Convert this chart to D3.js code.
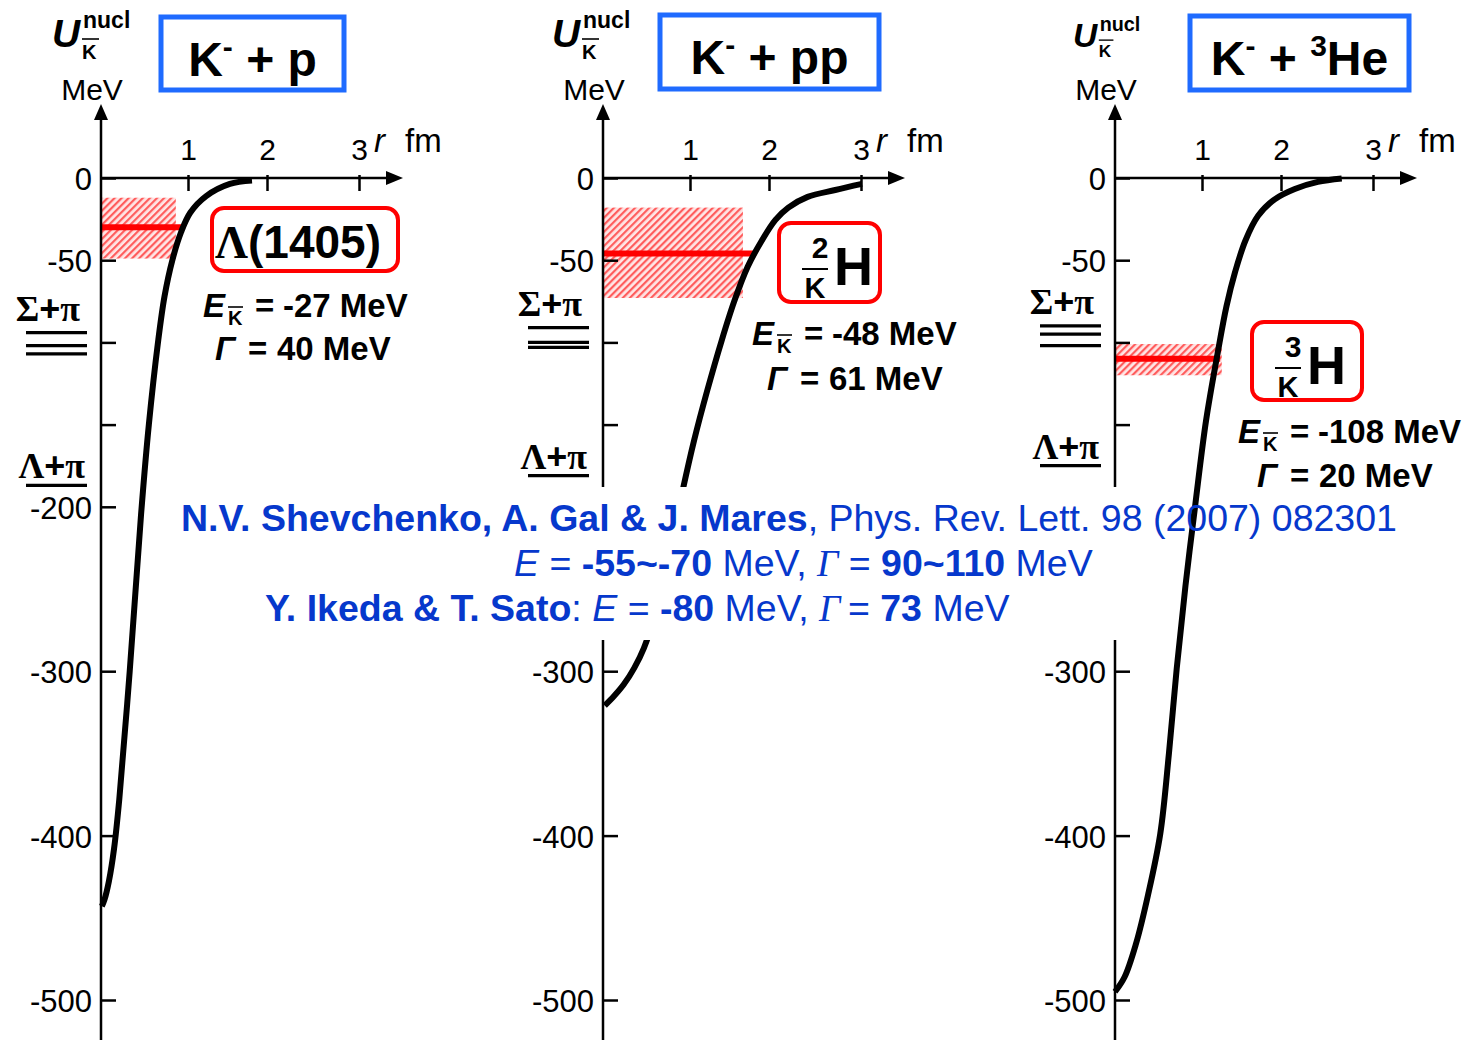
<!DOCTYPE html>
<html>
<head>
<meta charset="utf-8">
<script src="https://cdn.jsdelivr.net/npm/d3@7"></script>
<style>
  body { margin: 0; background: #fff; }
  text { font-family: "Liberation Sans", Arial, sans-serif; }
</style>
</head>
<body>
<script>
// values (r in fm, U in MeV)
const titles = ["K^- + p", "K^- + pp", "K^- + ^3He"];
const xTicks = [1, 2, 3];
const yTicks = [0, -50, -100, -150, -200, -300, -400, -500];
const yTickLabels = ["0", "-50", "", "", "-200", "-300", "-400", "-500"];

const rKp  = [0.01, 0.04, 0.09, 0.15, 0.21, 0.33, 0.46, 0.55, 0.655, 0.73, 0.82, 0.92, 1.03, 1.23, 1.53, 1.81];
const uKp  = [-443, -439, -428, -408, -378, -300, -205, -150, -100, -72, -50, -33, -21, -11, -3.6, -1.5];
const rKpp = [0.02, 0.13, 0.24, 0.36, 0.47, 0.60, 0.75, 0.92, 1.05, 1.22, 1.40, 1.56, 1.73, 1.91, 2.07, 2.21, 2.42, 2.72, 3.01];
const uKpp = [-321, -315, -308, -298, -286, -265, -232, -189, -160, -129, -99, -75, -54, -38, -25.5, -18, -11.5, -7.3, -3.6];
const r3He = [0, 0.11, 0.24, 0.38, 0.52, 0.62, 0.71, 0.81, 0.92, 1.05, 1.20, 1.31, 1.42, 1.55, 1.71, 1.92, 2.15, 2.40, 2.66];
const u3He = [-495, -486, -466, -436, -399, -350, -298, -248, -200, -148, -106, -78, -57, -38, -23, -13, -6.7, -2.4, -0.3];

const stateNames = ["Λ(1405)", "2", "3"];   // mass number over K-bar for the kaonic nuclei
const bindE = [-27, -48, -108];
const widthG = [40, 61, 20];
const lineLevel = [-30, -46, -110];        // red line as drawn
const bandTop = [-12, -18, -101];
const bandBottom = [-49, -73, -120];
const bandEnd = [0.86, 1.67, 1.25];
const lineEnd = [0.95, 1.80, 1.23];
const sigmaPi = [[-94, -102, -107], [-91, -100, -103], [-90, -95, -102]];
const lambdaPi = [-187, -181, -175];

const refLine1 = [["N.V. Shevchenko, A. Gal & J. Mares", "b"], [", Phys. Rev. Lett. 98 (2007) 082301", ""]];
const refLine2 = [["E", "i"], [" = ", ""], ["-55~-70", "b"], [" MeV, ", ""], ["Γ", "g"], [" = ", ""], ["90~110", "b"], [" MeV", ""]];
const refLine3 = [["Y. Ikeda & T. Sato", "b"], [": ", ""], ["E", "i"], [" = ", ""], ["-80", "b"], [" MeV, ", ""], ["Γ", "g"], ["\u2009= ", ""], ["73", "b"], [" MeV", ""]];

// layout
const W = 1466, H = 1040;
const ox = [101, 603, 1115];
const titleBox = [{x: 161, y: 17, w: 183, h: 73}, {x: 660, y: 15, w: 219, h: 74}, {x: 1190, y: 16, w: 219, h: 74}];
const stateBox = [{x: 212, y: 208, w: 186, h: 63}, {x: 779, y: 223, w: 101, h: 79}, {x: 1252, y: 322, w: 110, h: 78}];
const annE = [{x: 203, y: 317, gx: 215, gy: 360}, {x: 752, y: 345, gx: 767, gy: 390}, {x: 1238, y: 443, gx: 1257, gy: 487}];
const uLab = [{x: 52, s: 1}, {x: 552, s: 1}, {x: 1073, s: 0.86}];
const SERIF = "'Liberation Serif', 'Times New Roman', serif";
const BLUE = "#0638cc";

const svg = d3.select("body").append("svg").attr("width", W).attr("height", H);

const y = d3.scaleLinear().domain([0, -500]).range([178, 1000]);
const xs = ox.map(o => d3.scaleLinear().domain([0, 1, 2, 3]).range([0, 87, 166, 258].map(v => v + o)));
const curves = [[rKp, uKp], [rKpp, uKpp], [r3He, u3He]];
const line = d3.line().curve(d3.curveCatmullRom.alpha(0.5));

// hatch for the widths
const pat = svg.append("defs").append("pattern").attr("id", "hatch")
  .attr("patternUnits", "userSpaceOnUse").attr("width", 5).attr("height", 5)
  .attr("patternTransform", "rotate(45)");
pat.append("rect").attr("width", 5).attr("height", 5).attr("fill", "#ffe6e6");
pat.append("rect").attr("width", 2.2).attr("height", 5).attr("fill", "#ff5c5c");

// text built from tspans: t text, s size, b bold, i italic, f family, x abs x, dy shift
function rich(g, x, yb, parts, anchor) {
  const t = g.append("text").attr("x", x).attr("y", yb).attr("text-anchor", anchor || "start");
  parts.forEach(p => {
    const s = t.append("tspan").text(p.t);
    if (p.s) s.attr("font-size", p.s);
    if (p.b) s.attr("font-weight", "bold");
    if (p.i) s.attr("font-style", "italic");
    if (p.f) s.attr("font-family", p.f);
    if (p.x != null) s.attr("x", p.x);
    if (p.dy) s.attr("dy", p.dy);
  });
  return t;
}

function drawPanel(i) {
  const g = svg.append("g");
  const o = ox[i], x = xs[i];

  // width band + level line
  g.append("rect")
    .attr("x", o + 1).attr("y", y(bandTop[i]))
    .attr("width", x(bandEnd[i]) - o - 1).attr("height", y(bandBottom[i]) - y(bandTop[i]))
    .attr("fill", "url(#hatch)");
  g.append("line")
    .attr("x1", o).attr("x2", x(lineEnd[i]))
    .attr("y1", y(lineLevel[i])).attr("y2", y(lineLevel[i]))
    .attr("stroke", "#ff0000").attr("stroke-width", 6);

  // thresholds
  g.selectAll(".sp").data(sigmaPi[i]).enter().append("line")
    .attr("x1", o - 75).attr("x2", o - 14)
    .attr("y1", d => y(d)).attr("y2", d => y(d))
    .attr("stroke", "#000").attr("stroke-width", 3.2);
  rich(g, o - 21, y(sigmaPi[i][0]) - 12, [
    {t: "Σ", f: SERIF}, {t: "+"}, {t: "π", f: SERIF}], "end").attr("font-size", 36).attr("font-weight", "bold");
  g.append("line")
    .attr("x1", o - 75).attr("x2", o - 14)
    .attr("y1", y(lambdaPi[i])).attr("y2", y(lambdaPi[i]))
    .attr("stroke", "#000").attr("stroke-width", 3.2);
  rich(g, o - 16, y(lambdaPi[i]) - 7, [
    {t: "Λ", f: SERIF}, {t: "+"}, {t: "π", f: SERIF}], "end").attr("font-size", 36).attr("font-weight", "bold");

  // y axis (the -200 label of the middle and right panels sits under the white panel)
  const ya = g.append("g").attr("transform", `translate(${o},0)`)
    .call(d3.axisLeft(y).tickValues(yTicks).tickSizeInner(-15).tickSizeOuter(0).tickPadding(9)
      .tickFormat((d, k) => (i > 0 && d === -200) ? "" : yTickLabels[k]));
  ya.select(".domain").remove();
  ya.selectAll(".tick line").attr("stroke-width", 2.5);
  ya.selectAll(".tick text").attr("font-size", 31).attr("font-family", null).attr("dy", "0.38em");
  g.append("line").attr("x1", o).attr("x2", o).attr("y1", 112).attr("y2", H)
    .attr("stroke", "#000").attr("stroke-width", 2.5);
  g.append("path").attr("d", `M${o},104 L${o - 7},120 L${o + 7},120 Z`).attr("fill", "#000");

  // x axis
  const xa = g.append("g").attr("transform", `translate(0,${y(0) - 3})`)
    .call(d3.axisTop(x).tickValues(xTicks).tickSizeInner(-16).tickSizeOuter(0).tickPadding(15)
      .tickFormat(d3.format("d")));
  xa.select(".domain").remove();
  xa.selectAll(".tick line").attr("stroke-width", 2.5);
  xa.selectAll(".tick text").attr("font-size", 30).attr("font-family", null);
  g.append("line").attr("x1", o).attr("x2", o + 290).attr("y1", y(0)).attr("y2", y(0))
    .attr("stroke", "#000").attr("stroke-width", 2.5);
  g.append("path").attr("d", `M${o + 302},${y(0)} L${o + 285},${y(0) - 7} L${o + 285},${y(0) + 7} Z`).attr("fill", "#000");
  rich(g, o + 273, 152, [{t: "r", i: 1}]).attr("font-size", 33);
  rich(g, o + 304, 152, [{t: "fm"}]).attr("font-size", 33);

  // U label
  const ug = g.append("g").attr("transform", `translate(${uLab[i].x},47) scale(${uLab[i].s})`);
  rich(ug, 0, 0, [{t: "U", b: 1, i: 1}, {t: "nucl", b: 1, s: 23, x: 31, dy: -19}, {t: "K", b: 1, s: 20, x: 30, dy: 31}])
    .attr("font-size", 39);
  ug.append("line").attr("x1", 30).attr("x2", 47).attr("y1", -8).attr("y2", -8)
    .attr("stroke", "#000").attr("stroke-width", 1.6);
  rich(g, o - 9, 100, [{t: "MeV"}], "middle").attr("font-size", 30);

  // title box
  const tb = titleBox[i];
  g.append("rect").attr("x", tb.x).attr("y", tb.y).attr("width", tb.w).attr("height", tb.h)
    .attr("fill", "none").attr("stroke", "#1f6bff").attr("stroke-width", 5);
  const tp = [];
  let back = 0;
  titles[i].split(/(\^.)/).filter(s => s).forEach(s => {
    if (s[0] === "^") { tp.push({t: s[1], s: 30, dy: -19 + back}); back = 19; }
    else { tp.push({t: s, dy: back}); back = 0; }
  });
  rich(g, tb.x + tb.w / 2, tb.y + 59, tp, "middle").attr("font-size", 48).attr("font-weight", "bold")
    .style("white-space", "pre");

  // state box
  const sb = stateBox[i];
  g.append("rect").attr("x", sb.x).attr("y", sb.y).attr("width", sb.w).attr("height", sb.h)
    .attr("rx", 12).attr("fill", "none").attr("stroke", "#ff0000").attr("stroke-width", 4);
  if (i === 0) {
    rich(g, sb.x + 3, sb.y + 50, [
      {t: stateNames[0][0], f: SERIF}, {t: stateNames[0].slice(1)}]).attr("font-size", 46).attr("font-weight", "bold");
  } else {
    rich(g, sb.x + 41, sb.y + 35, [{t: stateNames[i]}], "middle").attr("font-size", 30).attr("font-weight", "bold");
    g.append("line").attr("x1", sb.x + 23).attr("x2", sb.x + 49).attr("y1", sb.y + 46).attr("y2", sb.y + 46)
      .attr("stroke", "#000").attr("stroke-width", 2);
    rich(g, sb.x + 36, sb.y + 75, [{t: "K"}], "middle").attr("font-size", 29).attr("font-weight", "bold");
    rich(g, sb.x + 55, sb.y + 62, [{t: "H"}]).attr("font-size", 54).attr("font-weight", "bold");
  }

  // energy and width
  const a = annE[i];
  rich(g, a.x, a.y, [
    {t: "E", i: 1},
    {t: "K", s: 20, x: a.x + 25, dy: 8},
    {t: "=", x: a.x + 52, dy: -8},
    {t: bindE[i] + " MeV", x: a.x + 80}]).attr("font-size", 33).attr("font-weight", "bold")
    .style("white-space", "pre");
  g.append("line").attr("x1", a.x + 25).attr("x2", a.x + 40).attr("y1", a.y - 10).attr("y2", a.y - 10)
    .attr("stroke", "#000").attr("stroke-width", 1.6);
  rich(g, a.gx, a.gy, [
    {t: "Γ", i: 1},
    {t: "=", x: a.gx + 33},
    {t: widthG[i] + " MeV", x: a.gx + 62}]).attr("font-size", 33).attr("font-weight", "bold")
    .style("white-space", "pre");
}

[0, 1, 2].forEach(drawPanel);

function drawCurve(i) {
  const [r, u] = curves[i];
  svg.append("path")
    .attr("d", line(r.map((v, k) => [xs[i](v), y(u[k])])))
    .attr("fill", "none").attr("stroke", "#000").attr("stroke-width", 6).attr("stroke-linecap", "butt");
}
drawCurve(0);
drawCurve(1);

// white panel behind the references
svg.append("rect").attr("x", 480).attr("y", 487).attr("width", 940).attr("height", 153).attr("fill", "#fff");
drawCurve(2);

// references
function refLine(x, yb, parts) {
  rich(svg, x, yb, parts.map(([t, st]) => {
    if (st === "b") return {t, b: 1};
    if (st === "i") return {t, i: 1};
    if (st === "g") return {t, i: 1, f: SERIF};
    return {t};
  })).attr("font-size", 37.5).attr("fill", BLUE).style("white-space", "pre");
}
refLine(181, 531, refLine1);
refLine(514, 576, refLine2);
refLine(265, 621, refLine3);
</script>
</body>
</html>
